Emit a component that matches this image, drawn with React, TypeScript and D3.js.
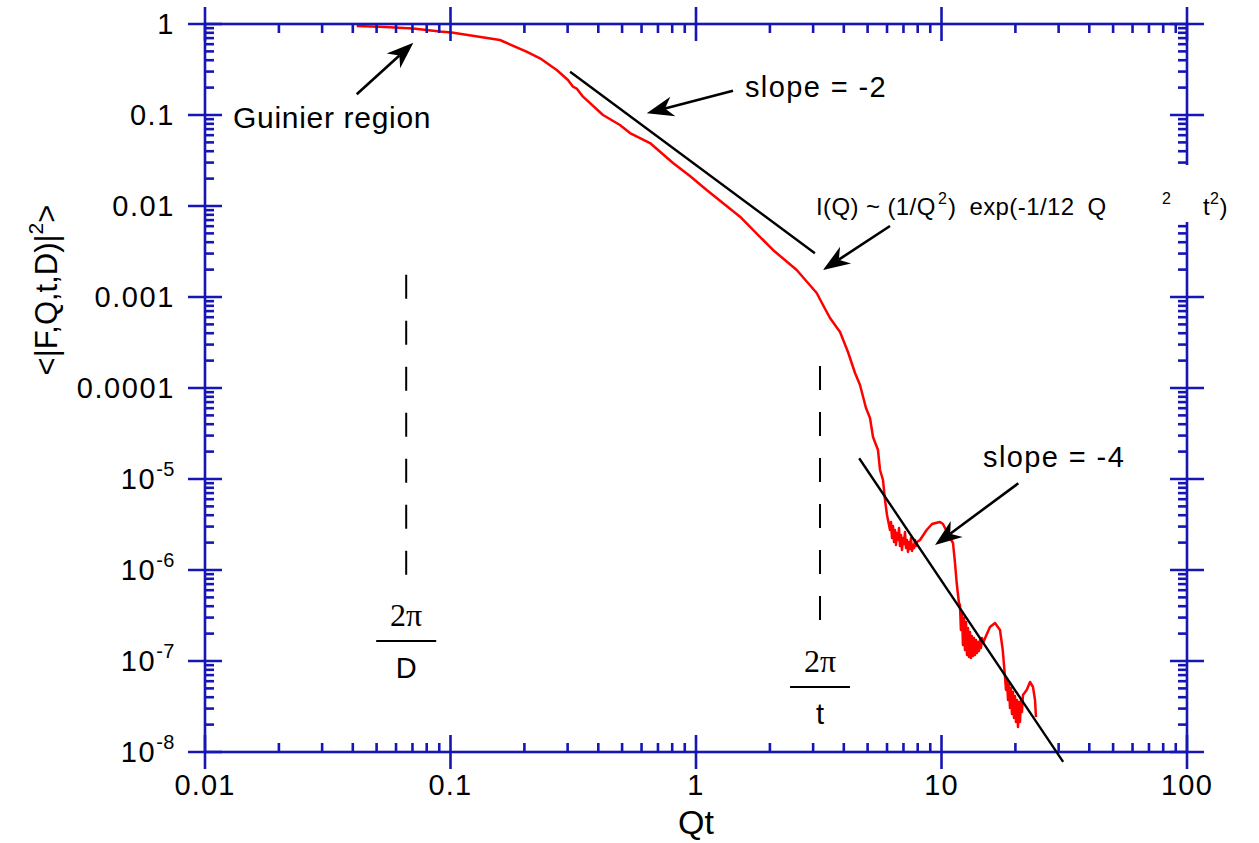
import React, { useEffect, useRef } from "react";
import * as d3 from "d3";

// axis ticks
const xTickValues = [0.01, 0.1, 1, 10, 100];
const xTickLabels = ["0.01", "0.1", "1", "10", "100"];
const yTickValues = [1, 0.1, 0.01, 0.001, 0.0001, 1e-5, 1e-6, 1e-7, 1e-8];
const yTickLabels = ["1", "0.1", "0.01", "0.001", "0.0001", "10^-5", "10^-6", "10^-7", "10^-8"];
const minorSteps = [2, 3, 4, 5, 6, 7, 8, 9];

// red curve
const qtValues = [
  0.0415, 0.0541, 0.0704, 0.0906, 0.1011, 0.159, 0.204, 0.2315, 0.2708, 0.301,
  0.3155, 0.3266, 0.3465, 0.418, 0.49, 0.5385, 0.6497, 0.806, 0.945, 1.105,
  1.511, 2.059, 2.572, 3.102, 3.291, 3.514, 3.861, 4.16, 4.444, 4.656,
  4.925, 5.114, 5.26, 5.512, 5.617, 5.777, 5.887, 5.998, 6.112,
  6.169, 6.227, 6.286, 6.345, 6.405, 6.465, 6.526, 6.587, 6.649, 6.712,
  6.775, 6.839, 6.903, 6.968, 7.034, 7.1, 7.167, 7.234, 7.303, 7.371,
  7.441, 7.511, 7.582, 7.653, 7.725, 7.798, 7.871, 7.945,
  8.173, 8.7, 9.149, 9.561, 9.86, 10.14, 10.43, 10.83, 11.14, 11.35, 11.53, 11.78,
  11.89, 12.0, 12.12, 12.23, 12.35, 12.46, 12.58, 12.7, 12.82, 12.94,
  13.06, 13.19, 13.31, 13.44, 13.56, 13.69, 13.82, 13.95, 14.08, 14.21,
  14.35, 14.48, 14.62, 14.76,
  15.18, 15.76, 16.52, 17.31, 17.76, 18.14,
  18.31, 18.48, 18.66, 18.83, 19.01, 19.19, 19.37, 19.55, 19.74, 19.92,
  20.11, 20.3, 20.49, 20.68, 20.88, 21.08, 21.27, 21.47,
  22.24, 22.94, 23.59, 24.04, 24.26,
];
const intensityValues = [
  0.951, 0.927, 0.892, 0.827, 0.806, 0.667, 0.496, 0.42, 0.312, 0.2425,
  0.2046, 0.1955, 0.1589, 0.1, 0.0777, 0.0634, 0.0492, 0.0297, 0.02137, 0.015,
  0.00763, 0.003285, 0.00198, 0.001107, 0.000817, 0.000588, 0.000412, 0.0002487, 0.0001462, 0.0001079,
  6.03e-5, 4.68e-5, 2.89e-5, 2.08e-5, 1.256e-5, 9.75e-6, 5.88e-6, 4.02e-6, 3.12e-6,
  2.752e-6, 3.369e-6, 2.247e-6, 3.045e-6, 2.031e-6, 2.752e-6, 1.883e-6, 2.55e-6, 2.136e-6, 2.894e-6,
  1.836e-6, 2.424e-6, 1.659e-6, 2.247e-6, 1.931e-6, 2.616e-6, 1.745e-6, 2.136e-6, 1.577e-6, 2.031e-6,
  1.701e-6, 2.247e-6, 1.617e-6, 1.883e-6, 1.745e-6, 2.136e-6, 1.836e-6, 2.031e-6,
  2.136e-6, 2.752e-6, 3.203e-6, 3.31e-6, 3.369e-6, 3.203e-6, 2.752e-6, 2.247e-6, 1.98e-6, 1.194e-6, 7.2e-7, 4.34e-7,
  4.125e-7, 2.191e-7, 3.455e-7, 1.499e-7, 2.968e-7, 1.321e-7, 2.683e-7, 1.164e-7, 2.304e-7, 1.107e-7,
  2.083e-7, 1.079e-7, 1.883e-7, 1.135e-7, 1.79e-7, 1.164e-7, 1.701e-7, 1.224e-7, 1.618e-7, 1.288e-7,
  1.701e-7, 1.39e-7, 1.79e-7, 1.577e-7,
  1.883e-7, 2.363e-7, 2.616e-7, 2.191e-7, 1.321e-7, 6.67e-8,
  4.8e-8, 6.18e-8, 3.73e-8, 5.59e-8, 3.04e-8, 5.05e-8, 2.62e-8, 4.56e-8, 2.36e-8, 4.13e-8,
  2.14e-8, 3.73e-8, 1.88e-8, 3.54e-8, 2.14e-8, 3.73e-8, 2.75e-8, 4.23e-8,
  4.8e-8, 5.88e-8, 5.18e-8, 3.73e-8, 2.42e-8,
];

// guide lines [qt, I]
const slopeTwoLine = [[0.307, 0.299], [3.05, 0.00302]];
const slopeFourLine = [[4.62, 1.69e-5], [31.3, 7.8e-9]];
const dashedMarkers = [
  { qt: 0.066, top: 1.76e-3, bottom: 5.73e-7, bar: 1.66e-7, den: "D" },
  { qt: 3.2, top: 1.75e-4, bottom: 1.98e-7, bar: 5.18e-8, den: "t" },
];

// arrows: tail -> tip
const arrows = [
  { from: [0.0415, 0.1688], to: [0.0706, 0.623] },
  { from: [1.415, 0.185], to: [0.63, 0.1044] },
  { from: [6.169, 6.03e-3], to: [3.291, 1.98e-3] },
  { from: [20.55, 8.97e-6], to: [9.41, 1.88e-6] },
];

const notes = [
  { text: "Guinier region", qt: 0.013, i: 0.072, size: 30, spacing: 0.7 },
  { text: "slope = -2", qt: 1.583, i: 0.1577, size: 29, spacing: 1.4 },
  { text: "slope = -4", qt: 14.76, i: 1.355e-5, size: 29, spacing: 1.4 },
];

const sans = "'Liberation Sans', Arial, sans-serif";
const serif = "'Liberation Serif', 'Times New Roman', serif";
const axisBlue = "#1616b4";

function App() {
  const ref = useRef<SVGSVGElement | null>(null);

  useEffect(() => {
    const svg = d3.select(ref.current);
    svg.selectAll("*").remove();

    const x = d3.scaleLog().domain([0.01, 100]).range([205, 1187]);
    const y = d3.scaleLog().domain([1e-8, 1]).range([752, 24]);
    const [x0, x1] = x.range();
    const [y0, y1] = y.range();

    // red curve
    const pts = qtValues.map((q, k) => [q, intensityValues[k]]);
    svg.append("path")
      .datum(pts)
      .attr("fill", "none")
      .attr("stroke", "#ff0000")
      .attr("stroke-width", 2.5)
      .attr("stroke-linejoin", "round")
      .attr("d", d3.line<number[]>().x((d) => x(d[0])).y((d) => y(d[1])));

    // axes frame
    const g = svg.append("g").attr("stroke", axisBlue).attr("stroke-width", 2.6);
    g.append("rect").attr("x", x0).attr("y", y1).attr("width", x1 - x0).attr("height", y0 - y1).attr("fill", "none");

    const xMinor: number[] = [];
    xTickValues.slice(0, -1).forEach((v) => minorSteps.forEach((m) => xMinor.push(v * m)));
    const yMinor: number[] = [];
    yTickValues.slice(1).forEach((v) => minorSteps.forEach((m) => yMinor.push(v * m)));

    // major ticks cross the frame
    xTickValues.forEach((v) => {
      [y0, y1].forEach((yy) => {
        g.append("line").attr("x1", x(v)).attr("x2", x(v)).attr("y1", yy - 17).attr("y2", yy + 17);
      });
    });
    yTickValues.forEach((v) => {
      [x0, x1].forEach((xx) => {
        g.append("line").attr("y1", y(v)).attr("y2", y(v)).attr("x1", xx - 17).attr("x2", xx + 17);
      });
    });
    // minor ticks inside
    xMinor.forEach((v) => {
      g.append("line").attr("x1", x(v)).attr("x2", x(v)).attr("y1", y0).attr("y2", y0 - 9);
      g.append("line").attr("x1", x(v)).attr("x2", x(v)).attr("y1", y1).attr("y2", y1 + 9);
    });
    yMinor.forEach((v) => {
      g.append("line").attr("y1", y(v)).attr("y2", y(v)).attr("x1", x0).attr("x2", x0 + 9);
      g.append("line").attr("y1", y(v)).attr("y2", y(v)).attr("x1", x1).attr("x2", x1 - 9);
    });

    // tick labels
    svg.append("g")
      .selectAll("text")
      .data(xTickValues)
      .join("text")
      .attr("x", (d) => x(d))
      .attr("y", 795)
      .attr("text-anchor", "middle")
      .attr("font-family", sans)
      .attr("font-size", 29)
      .attr("letter-spacing", 1.2)
      .text((d, k) => xTickLabels[k]);

    yTickValues.forEach((v, k) => {
      const [base, exp] = yTickLabels[k].split("^");
      const t = svg.append("text")
        .attr("x", 175)
        .attr("y", y(v) + 10)
        .attr("text-anchor", "end")
        .attr("font-family", sans)
        .attr("font-size", 29)
        .attr("letter-spacing", 1.6);
      t.append("tspan").text(base);
      if (exp) t.append("tspan").attr("dy", -13).attr("font-size", 20).attr("letter-spacing", 0.5).text(exp);
    });

    // axis titles
    svg.append("text")
      .attr("x", (x0 + x1) / 2)
      .attr("y", 834)
      .attr("text-anchor", "middle")
      .attr("font-family", sans)
      .attr("font-size", 34)
      .text("Qt");

    const yt = svg.append("text")
      .attr("transform", `translate(57,${(y0 + y1) / 2 - 98}) rotate(-90)`)
      .attr("text-anchor", "middle")
      .attr("font-family", sans)
      .attr("font-size", 31);
    yt.append("tspan").text("<|F,Q,t,D)|");
    yt.append("tspan").attr("dy", -14).attr("font-size", 21).text("2");
    yt.append("tspan").attr("dy", 14).text(">");

    // guide lines
    [slopeTwoLine, slopeFourLine].forEach((ln) => {
      svg.append("line")
        .attr("x1", x(ln[0][0])).attr("y1", y(ln[0][1]))
        .attr("x2", x(ln[1][0])).attr("y2", y(ln[1][1]))
        .attr("stroke", "#000").attr("stroke-width", 2.4);
    });

    dashedMarkers.forEach((m) => {
      const cx = x(m.qt);
      svg.append("line")
        .attr("x1", cx).attr("x2", cx)
        .attr("y1", y(m.top)).attr("y2", y(m.bottom))
        .attr("stroke", "#000").attr("stroke-width", 2)
        .attr("stroke-dasharray", "24 22");
      const by = y(m.bar);
      svg.append("line")
        .attr("x1", cx - 30).attr("x2", cx + 30)
        .attr("y1", by).attr("y2", by)
        .attr("stroke", "#000").attr("stroke-width", 2);
      svg.append("text")
        .attr("x", cx).attr("y", by - 15)
        .attr("text-anchor", "middle")
        .attr("font-family", serif).attr("font-size", 32)
        .text("2\u03c0");
      svg.append("text")
        .attr("x", cx).attr("y", by + 37)
        .attr("text-anchor", "middle")
        .attr("font-family", sans).attr("font-size", 29)
        .text(m.den);
    });

    // arrows
    arrows.forEach((a) => {
      const tx = x(a.from[0]), ty = y(a.from[1]);
      const hx = x(a.to[0]), hy = y(a.to[1]);
      const len = Math.hypot(hx - tx, hy - ty);
      const ux = (hx - tx) / len, uy = (hy - ty) / len;
      const nx = -uy, ny = ux;
      const L = 27, W = 10;
      svg.append("line")
        .attr("x1", tx).attr("y1", ty)
        .attr("x2", hx - ux * L * 0.7).attr("y2", hy - uy * L * 0.7)
        .attr("stroke", "#000").attr("stroke-width", 2.6);
      const head = [
        [hx, hy],
        [hx - ux * L + nx * W, hy - uy * L + ny * W],
        [hx - ux * L * 0.7, hy - uy * L * 0.7],
        [hx - ux * L - nx * W, hy - uy * L - ny * W],
      ];
      svg.append("path").attr("d", "M" + head.join("L") + "Z").attr("fill", "#000");
    });

    // text notes
    notes.forEach((n) => {
      svg.append("text")
        .attr("x", x(n.qt)).attr("y", y(n.i))
        .attr("font-family", sans).attr("font-size", n.size)
        .attr("letter-spacing", n.spacing)
        .text(n.text);
    });

    // formula, with a white box where it crosses the right axis
    const ax = x(3.2);
    const iy = y(7.96e-3);
    svg.append("rect")
      .attr("x", ax + 330).attr("y", iy - 50)
      .attr("width", 100).attr("height", 57)
      .attr("fill", "#fff");
    const iq = svg.append("text")
      .attr("x", ax - 4).attr("y", iy)
      .attr("font-family", sans).attr("font-size", 24)
      .attr("letter-spacing", 0.4);
    iq.append("tspan").text("I(Q) ~ (1/Q");
    iq.append("tspan").attr("x", ax + 118).attr("dy", -11).attr("font-size", 16).text("2");
    iq.append("tspan").attr("x", ax + 128).attr("dy", 11).attr("word-spacing", 6).text(") exp(-1/12 Q");
    iq.append("tspan").attr("x", ax + 342).attr("dy", -11).attr("font-size", 16).text("2");
    iq.append("tspan").attr("x", ax + 383).attr("dy", 11).text("t");
    iq.append("tspan").attr("dy", -11).attr("font-size", 16).text("2");
    iq.append("tspan").attr("dy", 11).text(")");
  }, []);

  return (
    <svg
      ref={ref}
      width={1259}
      height={843}
      style={{ position: "absolute", left: 0, top: 0, background: "#fff" }}
    />
  );
}

export default App;
